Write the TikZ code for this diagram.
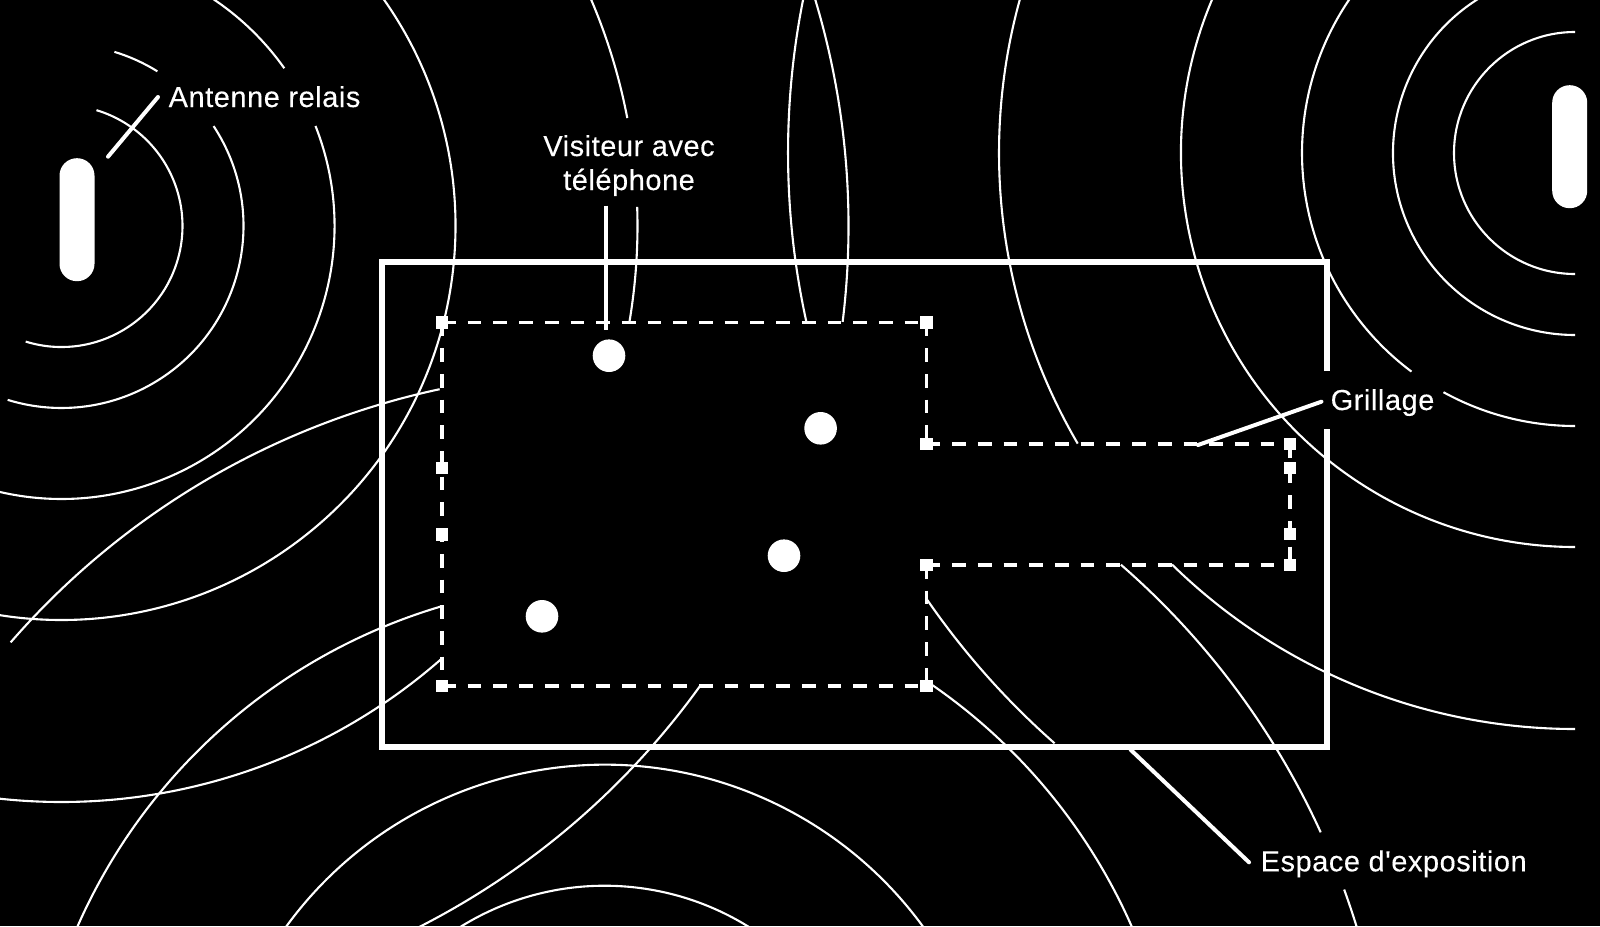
\documentclass[tikz,border=0pt]{standalone}
\usepackage{fontspec}
\setmainfont[LetterSpace=2,Ligatures=TeXOff,FakeBold=0.3]{Liberation Sans}
\tikzset{
  wave/.style={draw=white,line width=2.1pt},
  wall/.style={draw=white,line width=6pt,line join=miter},
  fence/.style={draw=white,line width=3.9pt,dash pattern=on 13.7pt off 12pt},
  leader/.style={draw=white,line width=4pt,line cap=round},
  post/.style={fill=white,draw=none,inner sep=0pt,minimum width=35pt,minimum height=123pt,rounded corners=17.4pt},
  visitor/.style={circle,fill=white,draw=none,inner sep=0pt,minimum size=32.6pt},
  pin/.style={rectangle,fill=white,draw=none,inner sep=0pt,minimum size=12.4pt},
  label/.style={text=white,inner sep=0pt,font=\fontsize{28.9}{34}\selectfont}
}
\newcommand\wavearc[4]{\draw[wave] (#1) ++(#3:#2) arc[start angle=#3,end angle=#4,radius=#2];}
\begin{document}
\begin{tikzpicture}[x=1pt,y=1pt]
\useasboundingbox (0,-926) rectangle (1600,0);
\fill[black] (0,-926) rectangle (1600,0);
\coordinate (L) at (61.5,-226);
\coordinate (B) at (604.6,-1158.7);
\coordinate (R) at (1575,-153);
\begin{scope}
\clip (0,-926) rectangle (1600,0);
% left antenna
\wavearc{L}{121}{-107.2}{73.2}
\wavearc{L}{182}{73.1}{58.2}
\wavearc{L}{182}{33.3}{-107.2}
\wavearc{L}{273}{60}{35.3}
\wavearc{L}{273}{21.5}{-110}
\wavearc{L}{394}{38}{-110}
\wavearc{L}{576}{26}{10.8}
\wavearc{L}{576}{1.9}{-9.6}
\wavearc{L}{576}{-48.7}{-110}
\wavearc{L}{787}{19}{-7}
\wavearc{L}{787}{-35.8}{-65}
% bottom antenna
\wavearc{B}{273}{125}{55}
\wavearc{B}{394}{150}{30}
\wavearc{B}{576}{106.6}{160}
\wavearc{B}{576}{55.3}{20}
\wavearc{B}{787}{102.1}{139}
\wavearc{B}{787}{49}{24.5}
\wavearc{B}{787}{20}{14}
% right antenna
\wavearc{R}{121}{90}{270}
\wavearc{R}{182}{118}{270}
\wavearc{R}{273}{140}{233.2}
\wavearc{R}{273}{241.2}{270}
\wavearc{R}{394}{150}{270}
\wavearc{R}{576}{160}{210.3}
\wavearc{R}{576}{225.6}{270}
\wavearc{R}{787}{165}{192.4}
\wavearc{R}{787}{214.6}{228.6}
\end{scope}
% exhibition space wall
\draw[wall] (1327,-371) -- (1327,-262) -- (382,-262) -- (382,-746.5) -- (1327,-746.5) -- (1327,-429);
% fence pins
\node[pin] (p1) at (442,-322.5) {};
\node[pin] (p2) at (926.5,-322.5) {};
\node[pin] (p3) at (926.5,-443.8) {};
\node[pin] (p4) at (1290,-443.8) {};
\node[pin] (p5) at (1290,-468) {};
\node[pin] (p6) at (1290,-534) {};
\node[pin] (p7) at (1290,-565) {};
\node[pin] (p8) at (926.5,-565) {};
\node[pin] (p9) at (926.5,-686) {};
\node[pin] (p10) at (442,-686) {};
\node[pin] (p11) at (442,-534.5) {};
\node[pin] (p12) at (442,-468) {};
\draw[fence] (p1.center) -- (p2.center);
\draw[fence] (p2.center) -- (p3.center);
\draw[fence] (p3.center) -- (p4.center);
\draw[fence] (p4.center) -- (p7.center);
\draw[fence] (p8.center) -- (p7.center);
\draw[fence] (p8.center) -- (p9.center);
\draw[fence] (p10.center) -- (p9.center);
\draw[fence] (p1.center) -- (p10.center);
% antennas and visitors
\node[post] (ant1) at (77,-219.7) {};
\node[post] (ant2) at (1569.7,-146.7) {};
\node[visitor] (v1) at (609,-355.7) {};
\node[visitor] (v2) at (820.6,-428.3) {};
\node[visitor] (v3) at (784,-555.7) {};
\node[visitor] (v4) at (542,-616.3) {};
% labels
\node[label,anchor=base west] (antenne) at (168.5,-107) {Antenne relais};
\node[label,anchor=base] (visiteur1) at (629,-156) {Visiteur avec};
\node[label,anchor=base] (visiteur2) at (629,-190) {téléphone};
\node[label,anchor=base west] (grillage) at (1330.5,-410) {Grillage};
\node[label,anchor=base west] (espace) at (1260.5,-871.3) {Espace d'exposition};
% leaders
\coordinate (a1) at (108,-156.7);
\coordinate (a2) at (158,-97);
\coordinate (b1) at (605.6,-205.7);
\coordinate (b2) at (605.6,-330);
\coordinate (c1) at (1198,-445);
\coordinate (c2) at (1321.4,-401.7);
\coordinate (d1) at (1130.6,-749.7);
\coordinate (d2) at (1249,-862.3);
\draw[leader] (a1) -- (a2);
\draw[leader,line cap=butt] (b1) -- (b2);
\draw[leader] (c1) -- (c2);
\draw[leader] (d1) -- (d2);
\end{tikzpicture}
\end{document}
